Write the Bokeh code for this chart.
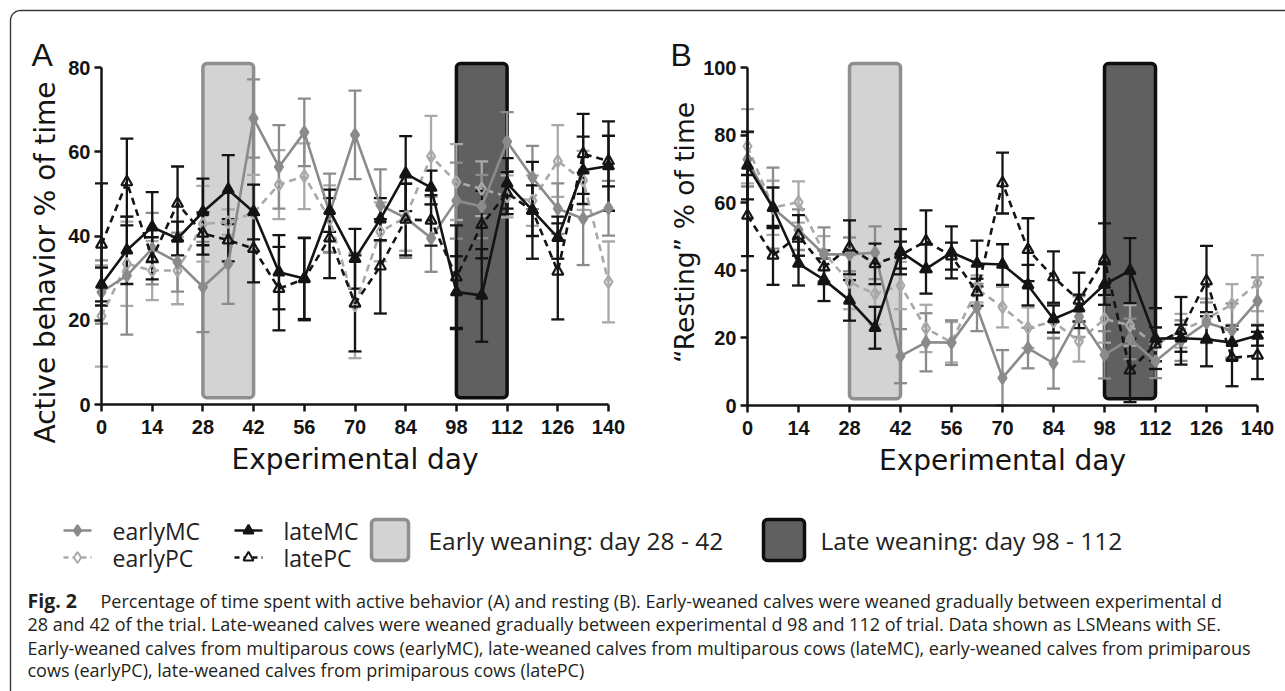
import numpy as np
from bokeh.plotting import figure
from bokeh.models import Range1d, LinearAxis, FixedTicker, Whisker, TeeHead, ColumnDataSource
from bokeh.core.properties import value
from bokeh.embed import file_html
from bokeh.resources import INLINE

# ---------------------------------------------------------------- data
days = list(range(0, 141, 7))
x_ticks = list(range(0, 141, 14))
active_ticks = [0, 20, 40, 60, 80]
resting_ticks = [0, 20, 40, 60, 80, 100]
early_weaning = (28, 42)
late_weaning = (98, 112)
series_names = ["earlyMC", "earlyPC", "lateMC", "latePC"]

# (A) active behaviour, % of time (LSMeans, SE)
active_earlyMC = [26.7, 30.6, 37.0, 33.8, 27.9, 33.4, 67.9, 56.4, 64.6, 45.5, 64.0,
                  47.3, 44.3, 39.5, 48.4, 47.0, 62.4, 53.9, 46.5, 44.1, 46.6]
active_earlyMC_se = [7.5, 14.0, 8.5, 7.0, 10.7, 9.5, 9.3, 9.9, 8.0, 9.3, 10.5,
                     8.5, 9.5, 8.0, 9.0, 7.5, 7.0, 7.5, 6.0, 11.0, 6.5]
active_earlyPC = [21.0, 33.4, 31.8, 31.8, 42.9, 43.3, 45.5, 52.2, 54.2, 44.0, 23.5,
                  41.0, 44.5, 58.9, 52.8, 51.2, 49.4, 48.4, 57.8, 53.2, 29.1]
active_earlyPC_se = [12.0, 10.0, 7.0, 8.0, 9.0, 3.0, 9.0, 8.2, 7.8, 8.0, 12.5,
                     7.0, 8.0, 9.6, 9.0, 6.5, 5.0, 6.0, 8.5, 7.0, 9.6]
active_lateMC = [28.5, 36.6, 42.1, 39.4, 45.7, 51.0, 45.7, 31.4, 29.9, 46.0, 34.6,
                 44.0, 54.8, 51.5, 26.7, 25.9, 52.5, 46.1, 39.6, 55.6, 56.6]
active_lateMC_se = [4.0, 8.0, 8.3, 4.0, 7.9, 8.2, 6.5, 8.8, 9.6, 5.0, 7.1,
                    5.0, 8.9, 4.0, 8.5, 11.0, 6.0, 11.5, 5.0, 8.0, 10.6]
active_latePC = [38.0, 52.8, 34.7, 47.7, 40.6, 39.0, 37.0, 27.5, 29.8, 39.5, 24.0,
                 32.8, 43.9, 43.7, 30.2, 42.7, 50.2, 46.0, 31.6, 59.5, 57.8]
active_latePC_se = [14.5, 10.3, 5.0, 8.8, 5.0, 5.0, 8.0, 9.9, 9.8, 9.5, 11.4,
                    11.2, 8.5, 6.0, 12.3, 8.0, 5.0, 6.0, 11.4, 9.5, 6.0]

# (B) "resting", % of time (LSMeans, SE)
resting_earlyMC = [72.8, 58.4, 52.0, 44.7, 44.7, 45.2, 14.6, 18.7, 18.6, 29.0, 8.2,
                   17.0, 12.5, 26.3, 15.0, 19.7, 13.1, 19.2, 24.5, 22.2, 30.9]
resting_earlyMC_se = [8.0, 12.0, 6.0, 8.0, 5.0, 7.8, 8.0, 8.6, 6.6, 7.0, 8.2,
                      6.0, 7.5, 6.0, 7.0, 6.0, 5.0, 6.0, 6.0, 8.0, 7.0]
resting_earlyPC = [76.7, 58.5, 60.2, 45.1, 36.5, 33.0, 35.5, 22.8, 18.7, 34.5, 29.1,
                   23.0, 24.8, 19.0, 25.6, 23.7, 18.0, 22.1, 25.6, 29.9, 36.2]
resting_earlyPC_se = [11.0, 8.0, 6.1, 5.0, 8.0, 9.0, 7.0, 7.0, 6.0, 4.0, 6.0,
                      6.0, 5.0, 6.0, 7.0, 6.0, 5.0, 5.0, 6.0, 6.0, 8.3]
resting_lateMC = [71.0, 58.5, 42.0, 37.2, 31.1, 23.0, 45.5, 40.4, 45.3, 42.0, 41.7,
                  35.6, 25.6, 28.8, 35.8, 39.9, 19.8, 19.9, 19.6, 18.6, 20.7]
resting_lateMC_se = [10.0, 6.0, 6.5, 6.3, 6.0, 6.2, 6.7, 7.3, 7.7, 6.8, 6.0,
                     6.0, 4.0, 4.0, 6.0, 9.6, 9.0, 4.0, 8.0, 5.0, 3.0]
resting_latePC = [56.2, 44.4, 50.3, 40.9, 46.8, 41.9, 44.5, 48.6, 44.2, 33.5, 65.8,
                  46.1, 38.0, 31.1, 43.3, 10.4, 18.1, 22.1, 36.8, 14.1, 14.8]
resting_latePC_se = [12.0, 8.7, 6.0, 5.0, 8.0, 6.0, 4.0, 9.1, 4.0, 4.0, 9.0,
                     9.3, 7.6, 8.2, 10.6, 9.4, 5.0, 10.0, 10.4, 8.4, 7.0]

caption_lines = [
    "Percentage of time spent with active behavior (A) and resting (B). Early-weaned calves were weaned gradually between experimental d",
    "28 and 42 of the trial. Late-weaned calves were weaned gradually between experimental d 98 and 112 of trial. Data shown as LSMeans with SE.",
    "Early-weaned calves from multiparous cows (earlyMC), late-weaned calves from multiparous cows (lateMC), early-weaned calves from primiparous",
    "cows (earlyPC), late-weaned calves from primiparous cows (latePC)",
]

# ---------------------------------------------------------------- styles
INK = "#141414"
STYLE = {
    "earlyMC": dict(color="#8b8b8b", dash="solid", marker="diamond", filled=True, size=12),
    "earlyPC": dict(color="#a9a9a9", dash="7 5", marker="diamond", filled=False, size=12),
    "lateMC": dict(color=INK, dash="solid", marker="triangle", filled=True, size=11),
    "latePC": dict(color=INK, dash="7 5", marker="triangle", filled=False, size=11),
}
DRAW_ORDER = ["earlyPC", "earlyMC", "latePC", "lateMC"]

W, H = 1285, 691
p = figure(width=W, height=H, x_range=Range1d(0, W), y_range=Range1d(H, 0),
           output_backend="svg", toolbar_location=None,
           x_axis_location=None, y_axis_location=None, min_border=0)
p.outline_line_color = None
p.background_fill_color = "white"
p.border_fill_color = "white"
p.grid.grid_line_color = None


def style_axis(ax, label_standoff, tick_standoff):
    ax.axis_line_width = 2.5
    ax.axis_line_color = INK
    ax.major_tick_line_width = 2.5
    ax.major_tick_line_color = INK
    ax.major_tick_out = 7
    ax.major_tick_in = 0
    ax.minor_tick_line_color = None
    ax.major_label_text_font = "Liberation Sans"
    ax.major_label_text_font_style = "bold"
    ax.major_label_text_font_size = "20px"
    ax.major_label_text_color = INK
    ax.major_label_standoff = tick_standoff
    ax.axis_label_text_font = "DejaVu Sans"
    ax.axis_label_text_font_size = "28px"
    ax.axis_label_text_font_style = "normal"
    ax.axis_label_text_color = INK
    ax.axis_label_standoff = label_standoff


def add_panel(name, px_left, px_right, px_zero, px_top, ymax, yticks, ylabel, ylabel_pos,
              ylabel_size, data):
    xr, yr = name + "_x", name + "_y"
    sx = (px_right - px_left) / 140.0
    sy = (px_zero - px_top) / ymax
    p.extra_x_ranges[xr] = Range1d(-px_left / sx, (W - px_left) / sx)
    p.extra_y_ranges[yr] = Range1d((px_zero - H) / sy, px_zero / sy)
    kw = dict(x_range_name=xr, y_range_name=yr)

    # weaning periods
    for (a, b), fill, edge in [(early_weaning, "#d3d3d3", "#8f8f8f"),
                               (late_weaning, "#606060", "#0e0e0e")]:
        p.quad(left=[a], right=[b], bottom=[0.02 * ymax], top=[1.012 * ymax],
               fill_color=fill, line_color=edge, line_width=3.5,
               border_radius=4, level="underlay", **kw)

    for key in DRAW_ORDER:
        vals, se = data[key]
        st = STYLE[key]
        lo = [v - s for v, s in zip(vals, se)]
        hi = [v + s for v, s in zip(vals, se)]
        src = ColumnDataSource(dict(x=days, lower=lo, upper=hi))
        p.add_layout(Whisker(source=src, base="x", lower="lower", upper="upper",
                             dimension="height", line_color=st["color"], line_width=2.3,
                             upper_head=TeeHead(size=13, line_color=st["color"], line_width=2.3),
                             lower_head=TeeHead(size=13, line_color=st["color"], line_width=2.3),
                             **kw))
    for key in DRAW_ORDER:
        vals, se = data[key]
        st = STYLE[key]
        p.line(days, vals, line_color=st["color"], line_width=2.6,
               line_dash=st["dash"], **kw)
        p.scatter(days, vals, marker=st["marker"], size=st["size"],
                  line_color=st["color"], line_width=2.2,
                  fill_color=st["color"] if st["filled"] else None, **kw)

    xa = LinearAxis(fixed_location=0, bounds=(0, 140), ticker=FixedTicker(ticks=x_ticks),
                    axis_label="Experimental day", **kw)
    style_axis(xa, 6, 8)
    p.add_layout(xa, "below")
    ya = LinearAxis(fixed_location=0, bounds=(0, ymax), ticker=FixedTicker(ticks=yticks), **kw)
    style_axis(ya, 0, 4)
    p.add_layout(ya, "left")

    # vertical axis title
    p.text(x=[ylabel_pos[0]], y=[ylabel_pos[1]], text=[ylabel], angle=np.pi / 2,
           text_font=value("DejaVu Sans"), text_font_size=value(ylabel_size),
           text_color=INK, text_align="center", text_baseline="middle")


add_panel("act", 101, 608, 404, 67, 80, active_ticks, "Active behavior % of time",
          (45, 262), "28px",
          {"earlyMC": (active_earlyMC, active_earlyMC_se),
           "earlyPC": (active_earlyPC, active_earlyPC_se),
           "lateMC": (active_lateMC, active_lateMC_se),
           "latePC": (active_latePC, active_latePC_se)})
add_panel("rest", 747, 1257, 405, 67, 100, resting_ticks, "\u201cResting\u201d % of time",
          (684, 232), "26.5px",
          {"earlyMC": (resting_earlyMC, resting_earlyMC_se),
           "earlyPC": (resting_earlyPC, resting_earlyPC_se),
           "lateMC": (resting_lateMC, resting_lateMC_se),
           "latePC": (resting_latePC, resting_latePC_se)})

# panel letters
p.text(x=[31, 670], y=[54, 54], text=["A", "B"], text_font=value("Liberation Sans"),
       text_font_size=value("32px"), text_color=INK, text_baseline="alphabetic")

# figure frame (rounded top-left corner)
r = 10
t = np.linspace(np.pi, 1.5 * np.pi, 12)
fx = [10] + list(10 + r + r * np.cos(t)) + [W]
fy = [H] + list(10 + r + r * np.sin(t)) + [10]
p.line(fx, fy, line_color="#3a3a3a", line_width=1.4)

# legend
rows = {"earlyMC": (77, 530), "earlyPC": (77, 557), "lateMC": (248, 530), "latePC": (248, 557)}
for key in series_names:
    cx, cy = rows[key]
    st = STYLE[key]
    p.line([cx - 14, cx + 14], [cy, cy], line_color=st["color"], line_width=2.4,
           line_dash="5 4" if st["dash"] != "solid" else "solid")
    p.scatter([cx], [cy], marker=st["marker"], size=st["size"] - 1, line_color=st["color"],
              line_width=2, fill_color=st["color"] if st["filled"] else "white")
    p.text(x=[cx + 35], y=[cy], text=[key], text_font=value("Open Sans"),
           text_font_size=value("23px"), text_color="#222222", text_baseline="middle")

p.quad(left=[371], right=[408], top=[519], bottom=[560], fill_color="#d3d3d3",
       line_color="#8f8f8f", line_width=3.5, border_radius=4)
p.quad(left=[763], right=[804], top=[519], bottom=[560], fill_color="#606060",
       line_color="#0e0e0e", line_width=3.5, border_radius=4)
p.text(x=[428, 820], y=[540, 540],
       text=["Early weaning: day %d - %d" % early_weaning, "Late weaning: day %d - %d" % late_weaning],
       text_font=value("Open Sans"), text_font_size=value("24.5px"), text_color="#222222",
       text_baseline="middle")

# caption
p.text(x=[27], y=[600], text=["Fig. 2"], text_font=value("Open Sans"), text_font_style="bold",
       text_font_size=value("19.5px"), text_color="#231f20", text_baseline="middle")
cap_x = [100, 27, 27, 27]
cap_y = [600, 623, 647, 669]
p.text(x=cap_x, y=cap_y, text=caption_lines, text_font=value("Open Sans"),
       text_font_size=value("18px"), text_color="#231f20", text_baseline="middle")

open("out.html", "w").write(file_html(p, INLINE))
